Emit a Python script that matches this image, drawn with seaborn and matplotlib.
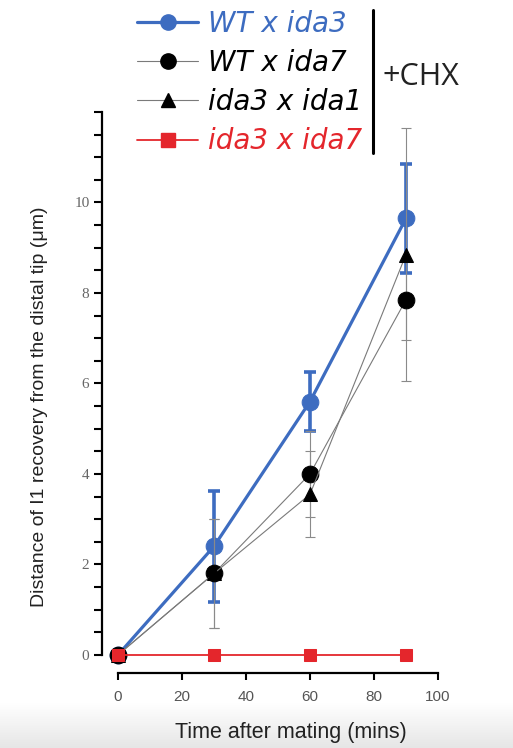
import numpy as np
import pandas as pd
import matplotlib
matplotlib.use('Agg')
import matplotlib.pyplot as plt
import seaborn as sns
from matplotlib.lines import Line2D

# -----------------------------
# Data
# -----------------------------
time_min = [0, 30, 60, 90]

wt_ida3 = [0, 2.4, 5.6, 9.65]
wt_ida3_err = [0, 1.22, 0.65, 1.2]

wt_ida7 = [0, 1.8, 4.0, 7.85]
wt_ida7_err = [0, 1.2, 0.95, 0.9]

ida3_ida1 = [0, 1.8, 3.55, 8.85]
ida3_ida1_err = [0, 1.2, 0.95, 2.8]

ida3_ida7 = [0, 0, 0, 0]
ida3_ida7_err = [0, 0, 0, 0]

labels = ['WT x ida3', 'WT x ida7', 'ida3 x ida1', 'ida3 x ida7']

# -----------------------------
# Style per series
# -----------------------------
blue = '#3d6cc0'
red = '#e4262c'
grey = '#7a7a7a'

series = [
    dict(y=wt_ida3, err=wt_ida3_err, line=blue, mcol=blue, marker='o', ms=12, lw=2.3,
         ecol=blue, elw=2.6, cap=4.5, z=3, tcol=blue, lms=11),
    dict(y=wt_ida7, err=wt_ida7_err, line=grey, mcol='black', marker='o', ms=12, lw=0.8,
         ecol='#8a8a8a', elw=0.8, cap=3.5, z=4, tcol='black', lms=11),
    dict(y=ida3_ida1, err=ida3_ida1_err, line=grey, mcol='black', marker='^', ms=10, lw=0.8,
         ecol='#8a8a8a', elw=0.8, cap=3.5, z=4, tcol='black', lms=10),
    dict(y=ida3_ida7, err=ida3_ida7_err, line=red, mcol=red, marker='s', ms=9, lw=1.3,
         ecol=red, elw=1.0, cap=0, z=5, tcol=red, lms=10),
]

sns.set_theme(style='ticks')
plt.rcParams['font.family'] = ['Liberation Sans', 'DejaVu Sans']

fig = plt.figure(figsize=(5.13, 7.48), dpi=100)
W, H = 513, 748

# light grey fade at the bottom of the screenshot
bg = fig.add_axes([0, 0, 1, 45 / H], zorder=-1)
grad = np.linspace(1, 0, 64).reshape(-1, 1)
bg.imshow(grad, aspect='auto', cmap=sns.blend_palette(['#e6e6e6', '#ffffff'], as_cmap=True),
          extent=[0, 1, 0, 1])
bg.axis('off')

ax = fig.add_axes([102 / W, 1 - 673 / H, (438 - 102) / W, (673 - 112) / H])
ax.set_facecolor('none')

# -----------------------------
# Draw series
# -----------------------------
handles = []
for s in series:
    df = pd.DataFrame({'time': time_min, 'value': s['y']})
    if s['cap'] > 0:
        ax.errorbar(time_min, s['y'], yerr=s['err'], fmt='none', ecolor=s['ecol'],
                    elinewidth=s['elw'], capsize=s['cap'], capthick=s['elw'], zorder=s['z'] - 0.5)
    sns.lineplot(data=df, x='time', y='value', ax=ax, color=s['line'], linewidth=s['lw'],
                 marker=s['marker'], markersize=s['ms'], markerfacecolor=s['mcol'],
                 markeredgecolor=s['mcol'], zorder=s['z'], legend=False)
    handles.append(Line2D([], [], color=s['line'], lw=s['lw'], marker=s['marker'],
                          markersize=s['lms'], markerfacecolor=s['mcol'],
                          markeredgecolor=s['mcol']))

# -----------------------------
# Axes
# -----------------------------
ax.set_xlim(-5, 100)
ax.set_ylim(-0.4, 12)
sns.despine(ax=ax)
ax.spines['left'].set_bounds(0, 12)
ax.spines['bottom'].set_bounds(0, 100)
for sp in ['left', 'bottom']:
    ax.spines[sp].set_linewidth(1.6)
    ax.spines[sp].set_color('black')

yt = np.arange(0, 12.01, 0.5)
ax.set_yticks(yt)
ax.set_yticklabels([f'{v:.0f}' if (v % 2 == 0 and v < 12) else '' for v in yt],
                   family='Liberation Serif', fontsize=11, color='#666666')
ax.set_xticks([0, 20, 40, 60, 80, 100])
ax.set_xticklabels(['0', '20', '40', '60', '80', '100'], fontsize=11, color='#555555')
ax.tick_params(axis='y', length=6, width=1.5, pad=3, color='black')
ax.tick_params(axis='x', length=5, width=1.5, pad=7, color='black')

ax.set_ylabel('Distance of I1 recovery from the distal tip (μm)', fontsize=14, color='#222222')
ax.yaxis.set_label_coords(-0.161, 0.474)
ax.set_xlabel('Time after mating (mins)', fontsize=15.5, color='#222222')
ax.xaxis.set_label_coords(0.5625, -0.087)

# -----------------------------
# Legend with bracket
# -----------------------------
leg = fig.legend(handles, labels, loc='upper left', bbox_to_anchor=(137 / W, 1 - 10 / H),
                 frameon=False, prop=dict(family='DejaVu Sans', style='italic', size=20),
                 handlelength=2.2, handletextpad=0.36, labelspacing=0.40,
                 borderaxespad=0, borderpad=0)
for txt, s in zip(leg.get_texts(), series):
    txt.set_color(s['tcol'])

fig.add_artist(Line2D([373 / W, 373 / W], [1 - 10 / H, 1 - 153 / H],
                      transform=fig.transFigure, color='black', lw=2.2))
fig.text(382 / W, 1 - 77 / H, '+CHX', fontsize=22, va='center', ha='left',
         family=['Open Sans', 'DejaVu Sans'], color='#222222')

fig.savefig('out.png', dpi=100)
